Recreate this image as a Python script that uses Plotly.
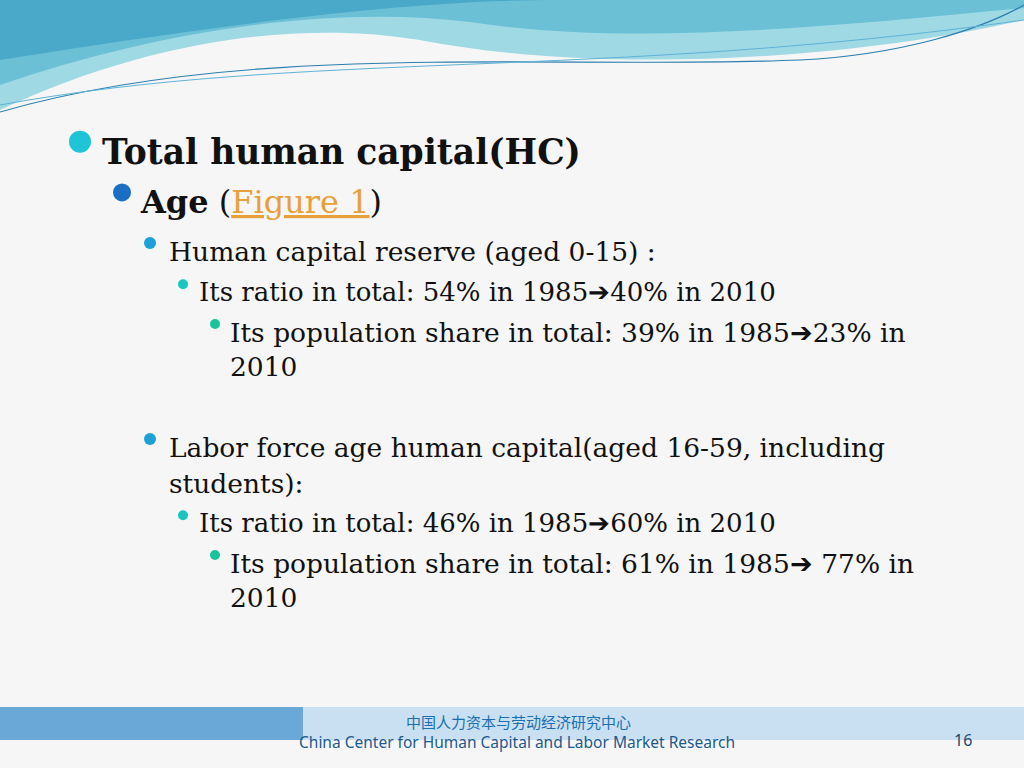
import plotly.graph_objects as go

# slide text, one entry per line
levels = [1, 2, 3, 4, 5, 5, 3, 3, 4, 5, 5]
texts = [
    "<b>Total human capital(HC)</b>",
    "<b>Age</b> (<span style='color:#e8a13a'><u>Figure 1</u></span>)",
    "Human capital reserve (aged 0-15) :",
    "Its ratio in total: 54% in 1985➔40% in 2010",
    "Its population share in total: 39% in 1985➔23% in",
    "2010",
    "Labor force age human capital(aged 16-59, including",
    "students):",
    "Its ratio in total: 46% in 1985➔60% in 2010",
    "Its population share in total: 61% in 1985➔ 77% in",
    "2010",
]
line_y = [152, 202, 251, 292, 332, 366, 447, 483, 523, 563, 597]
has_bullet = [True, True, True, True, True, False, True, False, True, True, False]
footer_cn = "中国人力资本与劳动经济研究中心"
footer_en = "China Center for Human Capital and Labor Market Research"
page_no = "16"

text_x = {1: 100, 2: 138, 3: 167, 4: 197, 5: 228}
bullet_x = {1: 80, 2: 122, 3: 150, 4: 183, 5: 215}
bullet_col = {1: "#1fc4d6", 2: "#1a6fc4", 3: "#1aa2d8", 4: "#1ac4c0", 5: "#1ac49a"}
bullet_r = {1: 11, 2: 9, 3: 6, 4: 5, 5: 5}
font_sz = {1: 34.5, 2: 32, 3: 26.5, 4: 26, 5: 26.5}

fig = go.Figure()
fig.update_layout(
    width=1024, height=768, margin=dict(l=0, r=0, t=0, b=0),
    paper_bgcolor="#f6f6f6", plot_bgcolor="#f6f6f6", showlegend=False,
    xaxis=dict(range=[0, 1024], visible=False, fixedrange=True),
    yaxis=dict(range=[768, 0], visible=False, fixedrange=True),
)

shapes = [
    # top waves
    dict(type="path", path="M0,0 L1024,0 L1024,20 C850,60 600,75 420,40 C300,20 150,40 0,110 Z",
         fillcolor="#9ed9e4", line=dict(width=0), layer="below"),
    dict(type="path", path="M0,0 L1024,0 L1024,8 C800,30 620,45 470,22 C330,5 160,30 0,85 Z",
         fillcolor="#6cc0d6", line=dict(width=0), layer="below"),
    dict(type="path", path="M0,0 L560,0 C420,0 250,20 0,60 Z",
         fillcolor="#4aa8c8", line=dict(width=0), layer="below"),
    dict(type="path", path="M0,112 C250,40 550,70 800,60 C900,55 980,30 1024,5",
         line=dict(color="#2b7fb0", width=1.2)),
    dict(type="path", path="M0,105 C300,50 600,80 1024,20",
         line=dict(color="#5fb3d6", width=1)),
    # footer band
    dict(type="rect", x0=0, x1=303, y0=707, y1=740, fillcolor="#6aa8d8",
         line=dict(width=0), layer="below"),
    dict(type="rect", x0=303, x1=1024, y0=707, y1=740, fillcolor="#c9e0f2",
         line=dict(width=0), layer="below"),
]
for lv, y, b in zip(levels, line_y, has_bullet):
    if b:
        r = bullet_r[lv]
        cx, cy = bullet_x[lv], y - font_sz[lv] * 0.3
        shapes.append(dict(type="circle", x0=cx - r, x1=cx + r, y0=cy - r, y1=cy + r,
                           fillcolor=bullet_col[lv], line=dict(width=0)))
fig.update_layout(shapes=shapes)

for lv, t, y in zip(levels, texts, line_y):
    fig.add_annotation(x=text_x[lv], y=y, text=t, showarrow=False, xanchor="left",
                       yanchor="middle", font=dict(family="DejaVu Serif", size=font_sz[lv],
                                                   color="#111111"))

fig.add_annotation(x=518, y=721, text=footer_cn, showarrow=False, yanchor="middle",
                   borderpad=0, font=dict(family="Noto Sans CJK SC", size=15, color="#1a6fb0"))
fig.add_annotation(x=517, y=742, text=footer_en, showarrow=False, yanchor="middle",
                   borderpad=0, font=dict(family="Noto Sans", size=15.5, color="#1a5a90"))
fig.add_annotation(x=963, y=740, text=page_no, showarrow=False,
                   font=dict(family="Noto Sans", size=16, color="#1a4a70"))

fig.write_html("out.html", config={"displayModeBar": False},
               post_script="document.body.style.margin='0';")
